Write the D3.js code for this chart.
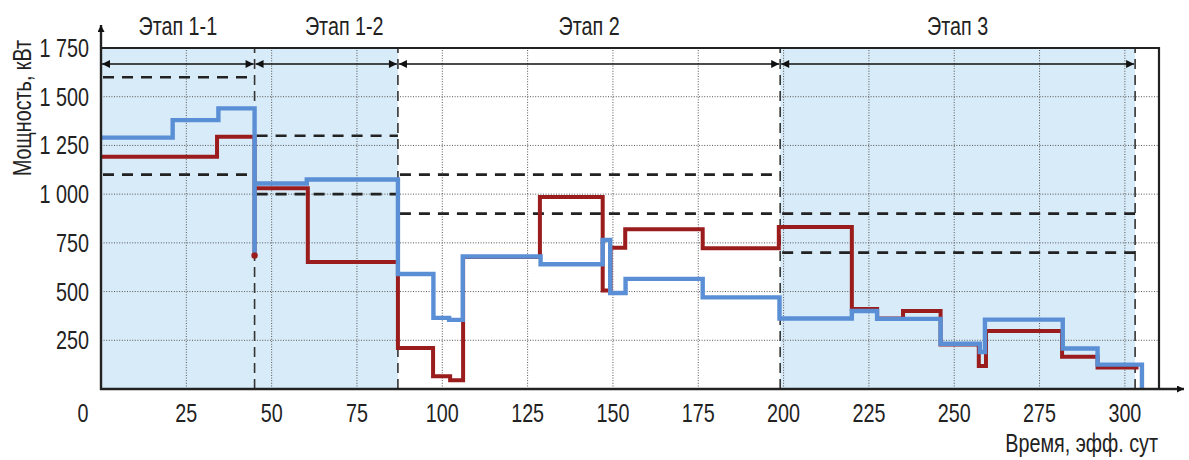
<!DOCTYPE html>
<html lang="ru">
<head>
<meta charset="utf-8">
<script src="https://d3js.org/d3.v7.min.js"></script>
<style>
  body { margin: 0; background: #fff; }
  svg { font-family: "Liberation Sans", Arial, sans-serif; }
  .grid line { stroke: #555; stroke-width: 1; stroke-dasharray: 1,1.6; }
  .lbl { fill: #222; font-size: 25px; }
</style>
</head>
<body>
<svg width="1189" height="460"></svg>
<script>
// stages
const stageNames = ["Этап 1-1", "Этап 1-2", "Этап 2", "Этап 3"];
const stageBounds = [0, 45, 87, 199, 303];
const stageShaded = [true, true, false, true];
// allowed power limits per stage (dashed)
const limitHigh = [1600, 1300, 1100, 900];
const limitLow = [1100, 1000, 900, 700];

// red series (step start time, power)
const redTime = [0, 34, 45, 45, 60.6, 87, 97.3, 102.3, 106.1, 128.6, 147, 149.3, 153.6, 176.3, 198.6, 220, 227.4, 235, 246, 257.2, 259.3, 281.6, 292, 304];
const redPower = [1192, 1295, 685, 1030, 652, 210, 65, 45, 678, 985, 505, 725, 820, 722, 832, 410, 362, 400, 228, 118, 298, 166, 110, 110];

// blue series
const blueTime = [0, 21, 34.4, 45, 45, 60.3, 87, 97.4, 102, 106, 128.8, 147, 149.2, 153.7, 176.3, 198.8, 220, 227.4, 246, 257.5, 259, 281.8, 292, 305];
const bluePower = [1290, 1380, 1440, 700, 1055, 1075, 590, 365, 355, 680, 640, 765, 493, 565, 470, 362, 400, 360, 232, 190, 356, 208, 125, 0];

const xTicks = [25, 50, 75, 100, 125, 150, 175, 200, 225, 250, 275, 300];
const yTicks = [250, 500, 750, 1000, 1250, 1500, 1750];

const svg = d3.select("svg");
const x = d3.scaleLinear().domain([0, 310]).range([101, 1159]);
const y = d3.scaleLinear().domain([0, 1750]).range([389, 48]);
const fmt = d3.formatLocale({decimal: ",", thousands: " ", grouping: [3], currency: ["", ""]}).format(",d");
const narrow = 0.79; // condensed look

const defs = svg.append("defs");
defs.append("marker").attr("id", "ah").attr("viewBox", "0 0 10 10")
  .attr("refX", 10).attr("refY", 5).attr("markerWidth", 11).attr("markerHeight", 8)
  .attr("markerUnits", "userSpaceOnUse").attr("orient", "auto-start-reverse")
  .append("path").attr("d", "M0,0 L10,5 L0,10 z").attr("fill", "#111");
defs.append("marker").attr("id", "ax").attr("viewBox", "0 0 10 10")
  .attr("refX", 10).attr("refY", 5).attr("markerWidth", 9).attr("markerHeight", 7)
  .attr("markerUnits", "userSpaceOnUse").attr("orient", "auto")
  .append("path").attr("d", "M0,0 L10,5 L0,10 z").attr("fill", "#111");

// shaded stages
svg.append("g").selectAll("rect")
  .data(stageNames.map((n, i) => i).filter(i => stageShaded[i]))
  .join("rect")
  .attr("x", i => x(stageBounds[i]))
  .attr("width", i => x(stageBounds[i + 1]) - x(stageBounds[i]))
  .attr("y", y(1750)).attr("height", y(0) - y(1750))
  .attr("fill", "#d8ebf8");

// grid
const grid = svg.append("g").attr("class", "grid");
grid.selectAll(".gx").data(xTicks).join("line")
  .attr("x1", d => x(d)).attr("x2", d => x(d)).attr("y1", y(0)).attr("y2", y(1750));
grid.selectAll(".gy").data(yTicks.slice(0, -1)).join("line")
  .attr("x1", x(0)).attr("x2", x(310)).attr("y1", d => y(d)).attr("y2", d => y(d));

// stage boundaries
svg.append("g").selectAll("line").data(stageBounds.slice(1)).join("line")
  .attr("x1", d => x(d)).attr("x2", d => x(d)).attr("y1", y(0)).attr("y2", y(1750))
  .attr("stroke", "#333").attr("stroke-width", 1.6).attr("stroke-dasharray", "10,6");

// stage arrows
svg.append("g").selectAll("line").data(stageNames.map((n, i) => i)).join("line")
  .attr("x1", i => x(stageBounds[i]) + 1).attr("x2", i => x(stageBounds[i + 1]) - 1)
  .attr("y1", 64).attr("y2", 64)
  .attr("stroke", "#111").attr("stroke-width", 1.3)
  .attr("marker-start", "url(#ah)").attr("marker-end", "url(#ah)");

// limit lines
const lim = svg.append("g").attr("stroke", "#222").attr("stroke-width", 2.6).attr("stroke-dasharray", "11,8");
[limitHigh, limitLow].forEach(arr => {
  lim.append("g").selectAll("line").data(arr).join("line")
    .attr("x1", (d, i) => x(stageBounds[i]) + 2).attr("x2", (d, i) => x(stageBounds[i + 1]))
    .attr("y1", d => y(d)).attr("y2", d => y(d));
});

// series
const stepLine = d3.line().x(d => x(d[0])).y(d => y(d[1])).curve(d3.curveStepAfter);
svg.append("path").datum(d3.zip(redTime, redPower))
  .attr("d", stepLine).attr("fill", "none").attr("stroke", "#9b1c1c").attr("stroke-width", 4);
svg.append("circle").attr("cx", x(45)).attr("cy", y(685)).attr("r", 3.2).attr("fill", "#9b1c1c");
svg.append("path").datum(d3.zip(blueTime, bluePower))
  .attr("d", stepLine).attr("fill", "none").attr("stroke", "#5a8fd5").attr("stroke-width", 4.4);

// frame
svg.append("path")
  .attr("d", `M${x(0)},${y(1750)} H${x(310)} V${y(0)}`)
  .attr("fill", "none").attr("stroke", "#222").attr("stroke-width", 2.2);
svg.append("line").attr("x1", x(0)).attr("x2", x(0)).attr("y1", y(0) + 1).attr("y2", 25)
  .attr("stroke", "#222").attr("stroke-width", 2.4).attr("marker-end", "url(#ax)");
svg.append("line").attr("x1", x(0) - 1).attr("x2", 1184).attr("y1", y(0)).attr("y2", y(0))
  .attr("stroke", "#222").attr("stroke-width", 2.4).attr("marker-end", "url(#ax)");

// text helper: condensed text placed at (px, py)
function label(g, px, py, anchor, rot) {
  return g.attr("class", "lbl").attr("text-anchor", anchor)
    .attr("transform", (d, i) => `translate(${px(d, i)},${py(d, i)})${rot ? " rotate(-90)" : ""} scale(${narrow},1)`);
}

// tick labels
label(svg.append("g").selectAll("text").data(yTicks).join("text"), () => x(0) - 12, d => y(d) + 9, "end")
  .text(fmt);
label(svg.append("g").selectAll("text").data(xTicks).join("text"), d => x(d), () => 422, "middle")
  .text(d => d);
label(svg.append("text").datum(0), () => x(0) - 18, () => 422, "middle").text("0");

// stage titles
label(svg.append("g").selectAll("text").data(stageNames).join("text"),
  (d, i) => x((stageBounds[i] + stageBounds[i + 1]) / 2) + (i === 1 ? 18 : 0), () => 35, "middle")
  .text(d => d);

// axis titles
label(svg.append("text").datum("Мощность, кВт"), () => 31, () => 108, "middle", true).text(d => d);
label(svg.append("text").datum("Время, эфф. сут"), () => 1158, () => 452, "end").text(d => d);
</script>
</body>
</html>
